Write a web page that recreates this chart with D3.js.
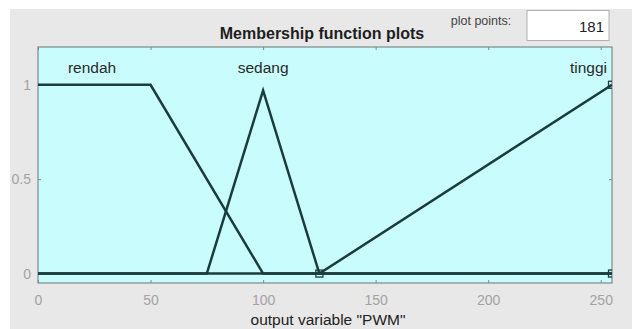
<!DOCTYPE html>
<html>
<head>
<meta charset="utf-8">
<style>
  body { margin: 0; background: #fff; }
  svg { display: block; font-family: "Liberation Sans", Arial, sans-serif; }
</style>
</head>
<body>
<svg></svg>
<script src="https://d3js.org/d3.v7.min.js"></script>
<script>
// membership functions of output variable "PWM"
var mfNames = ["rendah", "sedang", "tinggi"];
var rendahX = [-10, 0, 50, 100, 255];
var rendahY = [1, 1, 1, 0, 0];
var sedangX = [0, 75, 100, 125, 255];
var sedangY = [0, 0, 0.97, 0, 0];
var tinggiX = [0, 125, 255];
var tinggiY = [0, 0, 1];
var markerX = [125, 255, 255];
var markerY = [0, 1, 0];
var labelX = [24, 100, 255];
var xTicks = [0, 50, 100, 150, 200, 250];
var yTicks = [0, 0.5, 1];
var plotPoints = 181;

var W = 632, H = 329;
var svg = d3.select("svg").attr("width", W).attr("height", H);

// grey figure panel
svg.append("rect").attr("x", 10).attr("y", 9).attr("width", W - 10).attr("height", H - 9)
  .attr("fill", "#e8e8e8");

var pL = 38, pR = 612, pT = 47, pB = 283;
var x = d3.scaleLinear().domain([0, 255]).range([pL, pR]);
var y = d3.scaleLinear().domain([-0.05, 1.2]).range([pB, pT]);

svg.append("defs").append("clipPath").attr("id", "clip")
  .append("rect").attr("x", pL).attr("y", pT).attr("width", pR - pL).attr("height", pB - pT);

svg.append("rect").attr("x", pL).attr("y", pT).attr("width", pR - pL).attr("height", pB - pT)
  .attr("fill", "#c9fcfc");

// axes with inward ticks
var gx = svg.append("g").attr("transform", "translate(0," + pB + ")")
  .call(d3.axisBottom(x).tickValues(xTicks).tickSizeInner(-3).tickSizeOuter(0).tickPadding(12));
var gxt = svg.append("g").attr("transform", "translate(0," + pT + ")")
  .call(d3.axisTop(x).tickValues(xTicks).tickSizeInner(-3).tickSizeOuter(0).tickFormat(""));
var gy = svg.append("g").attr("transform", "translate(" + pL + ",0)")
  .call(d3.axisLeft(y).tickValues(yTicks).tickSizeInner(-3).tickSizeOuter(0).tickPadding(7).tickFormat(d3.format("")));
var gyr = svg.append("g").attr("transform", "translate(" + pR + ",0)")
  .call(d3.axisRight(y).tickValues(yTicks).tickSizeInner(-3).tickSizeOuter(0).tickFormat(""));

[gx, gxt, gy, gyr].forEach(function(g) {
  g.select(".domain").remove();
  g.selectAll(".tick line").attr("stroke", "#7d8c8c");
  g.selectAll(".tick text").attr("fill", "#a3a3a3").style("font-size", "14px");
});

svg.append("rect").attr("x", pL).attr("y", pT).attr("width", pR - pL).attr("height", pB - pT)
  .attr("fill", "none").attr("stroke", "#7d8a8a").attr("stroke-width", 1.2);

var line = d3.line().x(function(d) { return x(d[0]); }).y(function(d) { return y(d[1]); });
var plot = svg.append("g").attr("clip-path", "url(#clip)");

[[rendahX, rendahY], [sedangX, sedangY], [tinggiX, tinggiY]].forEach(function(s) {
  plot.append("path")
    .datum(d3.zip(s[0], s[1]))
    .attr("d", line)
    .attr("fill", "none")
    .attr("stroke", "#1b3c3c")
    .attr("stroke-width", 2.5)
    .attr("stroke-linejoin", "miter");
});

plot.selectAll("rect.mk").data(d3.zip(markerX, markerY)).enter()
  .append("rect").attr("class", "mk")
  .attr("x", function(d) { return x(d[0]) - 3.5; })
  .attr("y", function(d) { return y(d[1]) - 3.5; })
  .attr("width", 7).attr("height", 7)
  .attr("fill", "none").attr("stroke", "#1b3c3c").attr("stroke-width", 1.3);

// mf labels
svg.selectAll("text.mf").data(mfNames).enter()
  .append("text").attr("class", "mf")
  .attr("x", function(d, i) { return i === 2 ? x(labelX[i]) - 5 : x(labelX[i]); })
  .attr("y", 73)
  .attr("text-anchor", function(d, i) { return i === 2 ? "end" : "middle"; })
  .attr("fill", "#2a2a2a")
  .style("font-size", "15.5px")
  .text(function(d) { return d; });

// titles
svg.append("text").attr("x", 322).attr("y", 39).attr("text-anchor", "middle")
  .attr("fill", "#1e1e1e").style("font-size", "16px").style("font-weight", "bold")
  .text("Membership function plots");

svg.append("text").attr("x", 481).attr("y", 25).attr("text-anchor", "middle")
  .attr("fill", "#444").style("font-size", "12.5px")
  .text("plot points:");

svg.append("rect").attr("x", 527).attr("y", 10.5).attr("width", 82).attr("height", 30)
  .attr("fill", "#fff").attr("stroke", "#b0b0b0");
svg.append("text").attr("x", 604).attr("y", 32).attr("text-anchor", "end")
  .attr("fill", "#222").style("font-size", "15px")
  .text(plotPoints);

svg.append("text").attr("x", 328).attr("y", 325).attr("text-anchor", "middle")
  .attr("fill", "#222").style("font-size", "15.5px")
  .text('output variable "PWM"');
</script>
</body>
</html>
